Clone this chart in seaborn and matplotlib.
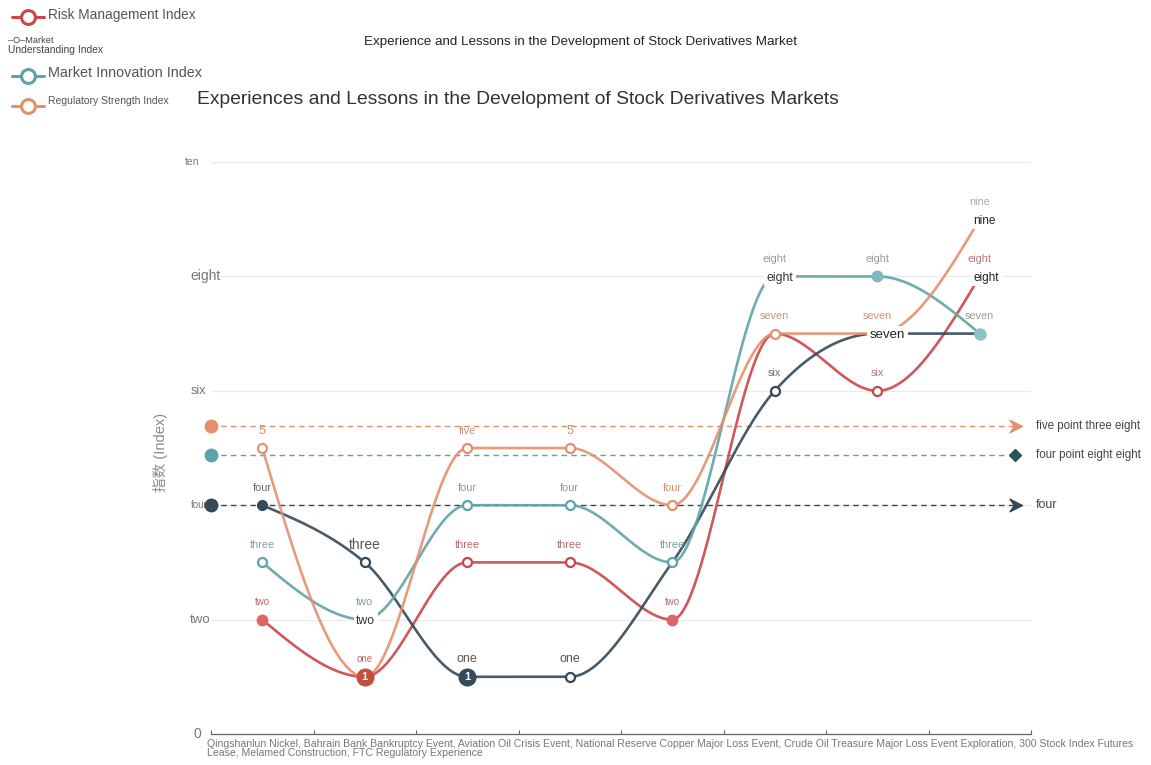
import numpy as np
import pandas as pd
import seaborn as sns
import matplotlib
matplotlib.use("Agg")
import matplotlib.pyplot as plt
from matplotlib.lines import Line2D
from matplotlib.path import Path

# ---------------- data ----------------
events = list(range(8))  # eight historical events, in order
risk_mgmt = [2, 1, 3, 3, 2, 7, 6, 8]
market_understanding = [4, 3, 1, 1, 3, 6, 7, 7]
market_innovation = [3, 2, 4, 4, 3, 8, 8, 7]
regulatory_strength = [5, 1, 5, 5, 4, 7, 7, 9]

risk_labels = ["two", "one", "three", "three", "two", None, "six", "eight"]
understanding_labels = ["four", "three", "one", "one", None, "six", None, None]
innovation_labels = ["three", "two", "four", "four", "three", "eight", "eight", "seven"]
regulatory_labels = ["5", None, "five", "5", "four", "seven", "seven", "nine"]

ref_values = [5.38, 4.88, 4.0]
ref_labels = ["five point three eight", "four point eight eight", "four"]

ytick_values = [0, 2, 4, 6, 8, 10]
ytick_labels = ["0", "two", "four", "six", "eight", "ten"]

series_names = ["Risk Management Index", "Market Understanding Index",
                "Market Innovation Index", "Regulatory Strength Index"]

x_caption = ("Qingshanlun Nickel, Bahrain Bank Bankruptcy Event, Aviation Oil Crisis Event, "
             "National Reserve Copper Major Loss Event, Crude Oil Treasure Major Loss Event "
             "Exploration, 300 Stock Index Futures\nLease, Melamed Construction, FTC Regulatory Experience")

# ---------------- style ----------------
C_RED = "#c9464a"
C_DARK = "#34495a"
C_TEAL = "#5ea3aa"
C_ORANGE = "#e3906e"

sns.set_theme(style="white")
plt.rcParams["font.family"] = ["Liberation Sans", "Noto Sans CJK SC", "DejaVu Sans"]

W, H = 1151, 765
fig = plt.figure(figsize=(W / 100, H / 100), dpi=100)
ax = fig.add_axes([211 / W, (H - 734) / H, 820 / W, (734 - 162) / H])
ax.set_xlim(-0.5, 7.5)
ax.set_ylim(0, 10)
for s in ["top", "right", "left"]:
    ax.spines[s].set_visible(False)
ax.spines["bottom"].set_color("#666666")
ax.spines["bottom"].set_linewidth(0.9)


def px(x, y):
    return x / W, 1 - y / H


# monotone cubic interpolation along x (same rule as d3.curveMonotoneX)
def monotone_curve(xs, ys, n=60):
    xs = np.asarray(xs, float)
    ys = np.asarray(ys, float)
    h = np.diff(xs)
    s = np.diff(ys) / h
    t = np.zeros(len(xs))
    sg = lambda v: -1.0 if v < 0 else 1.0
    for i in range(1, len(xs) - 1):
        s0, s1 = s[i - 1], s[i]
        p = (s0 * h[i] + s1 * h[i - 1]) / (h[i - 1] + h[i])
        t[i] = (sg(s0) + sg(s1)) * min(abs(s0), abs(s1), 0.5 * abs(p))
    t[0] = (3 * s[0] - t[1]) / 2
    t[-1] = (3 * s[-1] - t[-2]) / 2
    out_x, out_y = [], []
    for i in range(len(xs) - 1):
        u = np.linspace(0, 1, n, endpoint=(i == len(xs) - 2))
        h00 = 2 * u**3 - 3 * u**2 + 1
        h10 = u**3 - 2 * u**2 + u
        h01 = -2 * u**3 + 3 * u**2
        h11 = u**3 - u**2
        out_x.append(xs[i] + u * h[i])
        out_y.append(h00 * ys[i] + h10 * h[i] * t[i] + h01 * ys[i + 1] + h11 * h[i] * t[i + 1])
    return np.concatenate(out_x), np.concatenate(out_y)


# gridlines
for v in ytick_values[1:]:
    ax.axhline(v, color="#ebebeb", lw=0.9, zorder=0)

# y tick labels drawn as text with varying sizes
ytick_sizes = [10, 9.5, 7, 9, 10, 7.5]
ytick_left = [193, 190, 191, 191, 190, 185]
for v, lab, fs, xl in zip(ytick_values, ytick_labels, ytick_sizes, ytick_left):
    ax.text(-0.5 - (211 - xl) / 102.5, v, lab, ha="left", va="center", fontsize=fs,
            color="#777777", zorder=1, clip_on=False)

# smooth series curves via seaborn
all_series = [risk_mgmt, market_understanding, market_innovation, regulatory_strength]
colors = [C_RED, C_DARK, C_TEAL, C_ORANGE]
frames = []
for name, vals in zip(series_names, all_series):
    cx, cy = monotone_curve(events, vals)
    frames.append(pd.DataFrame({"event": cx, "value": cy, "series": name}))
curves = pd.concat(frames, ignore_index=True)
sns.lineplot(data=curves, x="event", y="value", hue="series", palette=dict(zip(series_names, colors)),
             estimator=None, sort=False, lw=1.9, alpha=0.9, legend=False, ax=ax, zorder=3)
ax.set_xlabel("")
ax.set_ylabel("")
ax.set_xticks(np.arange(-0.5, 8.0, 1.0))
ax.set_xticklabels([])
ax.tick_params(axis="x", direction="in", length=3, color="#666666", width=0.8, bottom=True)
ax.set_yticks([])

# reference lines
ref_colors = [C_ORANGE, C_TEAL, C_DARK]
x_start = -0.5
x_end = -0.5 + (1020 - 211) / 102.5
dart = Path([(0, 0), (-1.0, 0.5), (-0.65, 0), (-1.0, -0.5), (0, 0)],
            [Path.MOVETO, Path.LINETO, Path.LINETO, Path.LINETO, Path.CLOSEPOLY])
for i, (v, lab, c) in enumerate(zip(ref_values, ref_labels, ref_colors)):
    end = x_end if i != 1 else x_end - 0.12
    ax.plot([x_start, end], [v, v], ls=(0, (4, 3)), lw=1.0, color=c, zorder=2, clip_on=False)
    ax.plot([x_start], [v], marker="o", ms=9, color=c, mec=c, zorder=6, clip_on=False)
    if i == 1:
        ax.plot([x_end - 0.05], [v], marker="D", ms=6, color="#275459", zorder=6, clip_on=False)
    else:
        ax.plot([x_end + 0.02], [v], marker=dart, ms=18, color=c, mec=c, zorder=6, clip_on=False)
    ax.text(-0.5 + (1036 - 211) / 102.5, v, lab, ha="left", va="center",
            fontsize=9 if i == 2 else 8.3, color="#444444", clip_on=False)

# point markers
def open_marker(x, y, c, ms=6.5):
    ax.plot([x], [y], marker="o", ms=ms, mfc="white", mec=c, mew=1.6, zorder=5, clip_on=False)


def filled_marker(x, y, c, ms=7.5):
    ax.plot([x], [y], marker="o", ms=ms, mfc=c, mec=c, mew=1.0, zorder=5, clip_on=False)


filled_marker(0, risk_mgmt[0], "#e06466")
filled_marker(0, market_understanding[0], C_DARK, 7)
open_marker(0, market_innovation[0], C_TEAL)
open_marker(0, regulatory_strength[0], C_ORANGE)
open_marker(1, market_understanding[1], C_DARK)
for i in (2, 3):
    open_marker(i, regulatory_strength[i], C_ORANGE)
    open_marker(i, market_innovation[i], C_TEAL)
    open_marker(i, risk_mgmt[i], C_RED)
open_marker(3, market_understanding[3], C_DARK)
open_marker(4, regulatory_strength[4], C_ORANGE)
open_marker(4, market_innovation[4], C_TEAL)
filled_marker(4, risk_mgmt[4], "#e06466")
open_marker(5, regulatory_strength[5], C_ORANGE)
open_marker(5, market_understanding[5], C_DARK)
filled_marker(6, market_innovation[6], "#7fb9bf")
open_marker(6, risk_mgmt[6], C_RED)
filled_marker(7, market_innovation[7], "#8cc3c7", 8)

# numbered badges at the lowest points
for x, y, c in [(1, regulatory_strength[1], "#c3503f"), (2, market_understanding[2], C_DARK)]:
    ax.plot([x], [y], marker="o", ms=12, mfc=c, mec=c, zorder=7, clip_on=False)
    ax.text(x, y, "1", ha="center", va="center", fontsize=8, color="white",
            fontweight="bold", zorder=8)

# value labels above the points
label_sets = [
    (risk_mgmt, risk_labels, "#b36b6b"),
    (market_understanding, understanding_labels, "#6b6b6b"),
    (market_innovation, innovation_labels, "#7f9da1"),
    (regulatory_strength, regulatory_labels, "#d49074"),
]
for k, (vals, labs, lc) in enumerate(label_sets):
    for i, (v, lab) in enumerate(zip(vals, labs)):
        if lab is None:
            continue
        fs = 7.8
        col = lc
        if k == 1 and i in (1, 2, 3):
            fs = 10 if i == 1 else 9
            col = "#555555"
        if lab == "5":
            fs = 9
        if lab in ("one", "two") and k == 0:
            fs = 7
        if i >= 5 and k in (0, 2):
            col = "#9a9a9a" if k == 2 else "#b07777"
        if i == 7 and k == 3:
            col = "#aaaaaa"
        bb = None
        if k == 1 and i == 5:
            bb = dict(boxstyle="square,pad=0.15", fc="white", ec="none")
        ax.annotate(lab, (i, v), xytext=(0, 12.5), textcoords="offset points",
                    ha="center", va="center", fontsize=fs, color=col, zorder=9,
                    bbox=bb, annotation_clip=False)

# inline labels with white backing sitting on the points
inline = [
    (1, market_innovation[1], "two", 1, 8.8, "#333333"),
    (5, market_innovation[5], "eight", 5, 8.8, "#333333"),
    (6, market_understanding[6], "seven", 10, 9.5, "#222222"),
    (7, regulatory_strength[7], "nine", 5, 8.5, "#222222"),
    (7, risk_mgmt[7], "eight", 7, 8.5, "#222222"),
]
for x, y, lab, dx, fs, col in inline:
    ax.annotate(lab, (x, y), xytext=(dx * 0.72, -1), textcoords="offset points",
                ha="center", va="center", fontsize=fs, color=col, zorder=9,
                bbox=dict(boxstyle="square,pad=0.2", fc="white", ec="none"),
                annotation_clip=False)

# titles
fig.text(*px(580, 42), "Experience and Lessons in the Development of Stock Derivatives Market",
         ha="center", va="center", fontsize=9.6, color="#222222")
fig.text(*px(197, 100), "Experiences and Lessons in the Development of Stock Derivatives Markets",
         ha="left", va="center", fontsize=13.9, color="#333333")

# y axis title
fig.text(*px(160, 452), "指数 (Index)", rotation=90, ha="center", va="center",
         fontsize=10.5, color="#8a8a8a")

# x caption
fig.text(*px(207, 739), x_caption, ha="left", va="top", fontsize=7.6, color="#777777",
         linespacing=0.82)

# legend
def legend_icon(y, c):
    x0, y0 = px(12, y)
    x1, _ = px(44, y)
    fig.add_artist(Line2D([x0, x1], [y0, y0], color=c, lw=2.2, transform=fig.transFigure))
    fig.add_artist(Line2D([(x0 + x1) / 2], [y0], marker="o", ms=10, mfc="white", mec=c,
                          mew=2.2, transform=fig.transFigure))


legend_icon(17, C_RED)
fig.text(*px(48, 15), series_names[0], ha="left", va="center", fontsize=9.8, color="#555555")
fig.text(*px(8, 40.5), "–O–Market", ha="left", va="center", fontsize=6.6, color="#444444")
fig.text(*px(8, 50), "Understanding Index", ha="left", va="center", fontsize=7.4, color="#444444")
legend_icon(76, C_TEAL)
fig.text(*px(48, 73), series_names[2], ha="left", va="center", fontsize=10.4, color="#555555")
legend_icon(106, C_ORANGE)
fig.text(*px(48, 101), series_names[3], ha="left", va="center", fontsize=7.5, color="#555555")

fig.savefig("out.png", dpi=100, facecolor="white")
